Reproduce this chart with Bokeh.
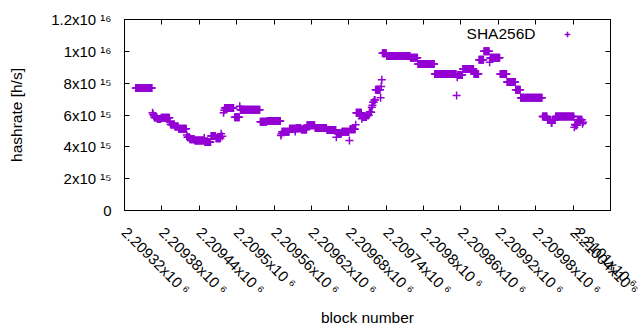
from bokeh.plotting import figure
from bokeh.models import (Range1d, FixedTicker, LinearAxis, Legend, LegendItem, Label,
                          ColumnDataSource, CustomLabelingPolicy)
from bokeh.core.properties import value
from bokeh.embed import file_html
from bokeh.resources import INLINE
import math

# ---- data (runs of consecutive blocks that share one hashrate reading) ----
block_base = 2209320
run_first = [18, 45, 46, 47, 48, 53, 59, 73, 74, 81, 87, 100, 101, 105, 113, 128, 129,
             139, 147, 155, 157, 159, 160, 161, 177, 185, 186, 218, 229, 251, 252, 253,
             265, 274, 275, 284, 293, 306, 325, 340, 341, 349, 361, 362, 371, 372, 381,
             382, 389, 393, 397, 398, 399, 401, 403, 411, 412, 413, 414, 421, 459, 471,
             498, 533, 534, 535, 543, 561, 569, 577, 586, 587, 603, 614, 628, 636, 671,
             679, 685, 687, 692, 722, 723, 724, 727, 735, 736]
run_last = [44, 45, 46, 47, 52, 58, 72, 73, 80, 86, 99, 100, 104, 112, 127, 128, 138,
            146, 154, 155, 157, 159, 160, 175, 184, 185, 217, 228, 250, 251, 252, 264,
            273, 274, 283, 292, 305, 324, 339, 340, 348, 360, 361, 370, 371, 380, 381,
            388, 392, 396, 397, 398, 400, 402, 410, 411, 412, 413, 420, 458, 470, 497,
            532, 533, 534, 542, 560, 568, 576, 585, 586, 602, 613, 627, 635, 670, 678,
            684, 686, 691, 721, 722, 723, 726, 734, 735, 736]
run_hashrate_e15 = [7.70, 6.14, 6.05, 5.95, 5.85, 5.75, 5.83, 5.55, 5.40, 5.28, 5.13, 4.75,
                    4.60, 4.48, 4.40, 4.55, 4.30, 4.68, 4.54, 4.82, 4.67, 6.14, 6.30, 6.44,
                    5.86, 6.55, 6.33, 5.57, 5.63, 4.71, 4.82, 4.94, 5.13, 4.96, 5.17, 5.09,
                    5.36, 5.19, 5.06, 4.60, 4.84, 4.94, 4.40, 5.11, 5.38, 6.14, 5.76, 5.87,
                    5.98, 6.18, 6.49, 6.62, 6.80, 6.95, 7.58, 7.08, 7.79, 8.21, 9.88, 9.71,
                    9.59, 9.21, 8.58, 7.22, 8.37, 8.52, 8.89, 8.58, 9.47, 10.0, 9.32, 9.59,
                    8.58, 8.08, 7.58, 7.08, 5.91, 5.69, 5.52, 5.69, 5.91, 5.23, 5.40, 5.35,
                    5.70, 5.45, 5.55]

x_ticks = [2209320, 2209380, 2209440, 2209500, 2209560, 2209620, 2209680,
           2209740, 2209800, 2209860, 2209920, 2209980, 2210040, 2210100]
x_tick_labels = ["2.20932x10 ⁶", "2.20938x10 ⁶", "2.20944x10 ⁶", "2.2095x10 ⁶",
                 "2.20956x10 ⁶", "2.20962x10 ⁶", "2.20968x10 ⁶", "2.20974x10 ⁶",
                 "2.2098x10 ⁶", "2.20986x10 ⁶", "2.20992x10 ⁶", "2.20998x10 ⁶",
                 "2.21004x10 ⁶", "2.2101x10 ⁶"]
y_ticks = [0, 2e15, 4e15, 6e15, 8e15, 1e16, 1.2e16]
y_tick_labels = ["0", "2x10 ¹⁵", "4x10 ¹⁵", "6x10 ¹⁵", "8x10 ¹⁵", "1x10 ¹⁶", "1.2x10 ¹⁶"]
series_name = "SHA256D"

blocks, rates = [], []
for a, b, v in zip(run_first, run_last, run_hashrate_e15):
    for k in range(a, b + 1):
        blocks.append(block_base + k)
        rates.append(v * 1e15)
src = ColumnDataSource(dict(block=blocks, rate=rates))

FONT = "Liberation Sans"
COLOR = "#9400D3"

p = figure(width=640, height=330, output_backend="svg", toolbar_location=None,
           x_range=Range1d(x_ticks[0], x_ticks[-1]), y_range=Range1d(y_ticks[0], y_ticks[-1]),
           x_axis_label="block number", y_axis_label="hashrate [h/s]",
           min_border_left=124, min_border_right=30, min_border_top=19, min_border_bottom=120)
p.grid.visible = False
p.outline_line_color = "black"
p.outline_line_width = 1
p.outline_line_alpha = 1
p.background_fill_color = "white"
p.border_fill_color = "white"

r = p.scatter("block", "rate", source=src, marker="cross", size=8, line_width=1.5,
              line_color=COLOR)

xa = p.xaxis[0]
xa.ticker = FixedTicker(ticks=x_ticks)
xa.major_label_overrides = {t: s for t, s in zip(x_ticks, x_tick_labels)}
xa.major_label_orientation = -math.pi / 4
ya = p.yaxis[0]
ya.ticker = FixedTicker(ticks=y_ticks)
ya.major_label_overrides = {t: s for t, s in zip(y_ticks, y_tick_labels)}
ya.major_label_orientation = "horizontal"

for ax in (xa, ya):
    ax.minor_tick_line_color = None
    ax.major_tick_in = 5
    ax.major_tick_out = 0
    ax.axis_line_color = "black"
    ax.major_tick_line_color = "black"
    ax.major_label_text_font = FONT
    ax.major_label_text_font_size = "15px"
    ax.major_label_text_color = "black"
    ax.axis_label_text_font = FONT
    ax.axis_label_text_font_size = "15.5px"
    ax.axis_label_text_font_style = "normal"
    ax.axis_label_text_color = "black"
xa.major_label_standoff = 19
ya.major_label_standoff = 13
xa.axis_label_standoff = 2
ya.axis_label_standoff = 23

# mirrored ticks on top and right (no labels drawn)
no_labels = CustomLabelingPolicy(
    code="for (const i of Array.from(indices)) { indices.unset(i) } return indices")
top = LinearAxis(ticker=FixedTicker(ticks=x_ticks), major_label_policy=no_labels,
                 major_label_overrides={t: "" for t in x_ticks},
                 major_tick_in=5, major_tick_out=0, minor_tick_line_color=None,
                 major_label_standoff=0, axis_line_color="black")
right = LinearAxis(ticker=FixedTicker(ticks=y_ticks), major_label_policy=no_labels,
                   major_label_overrides={t: "" for t in y_ticks},
                   major_tick_in=5, major_tick_out=0, minor_tick_line_color=None,
                   major_label_standoff=0, axis_line_color="black")
p.add_layout(top, "above")
p.add_layout(right, "right")

# key: text then sample, as in the original
p.add_layout(Label(x=411, y=177, x_units="screen", y_units="screen", text=series_name,
                   text_font=FONT, text_font_size="15.5px", text_align="right",
                   text_baseline="middle", text_color="black"))
leg = Legend(items=[LegendItem(label=value(""), renderers=[r])],
             location=(436, 169), border_line_color=None, background_fill_alpha=0,
             padding=0, margin=0, spacing=0, glyph_width=14, glyph_height=14,
             label_height=14, label_width=0, label_standoff=0,
             label_text_font=FONT, label_text_font_size="15px")
p.add_layout(leg, "center")

open("out.html", "w").write(file_html(p, INLINE))
